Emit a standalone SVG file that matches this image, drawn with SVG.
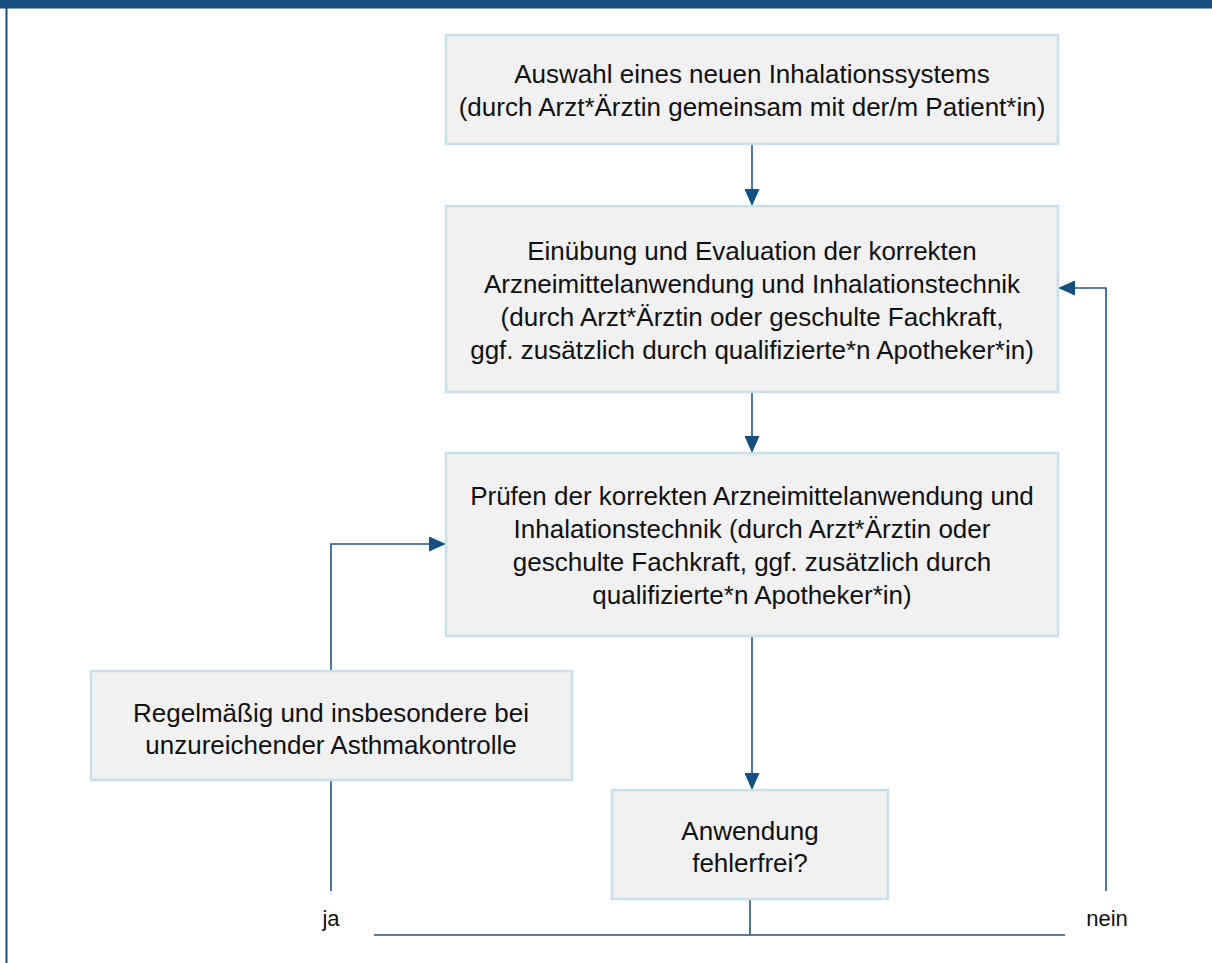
<svg xmlns="http://www.w3.org/2000/svg" width="1212" height="963" viewBox="0 0 1212 963">
<style>
.box{fill:#f1f1f1;stroke:#c6e0ee;stroke-width:2.5}
.t{font-family:"Liberation Sans",Arial,sans-serif;font-size:26px;fill:#111;text-anchor:middle}
.lbl{font-family:"Liberation Sans",Arial,sans-serif;font-size:22px;fill:#111;text-anchor:middle}
.c{fill:none;stroke:#1f5585;stroke-width:1.6}
</style>
<defs>
<marker id="ah" viewBox="0 0 10 10" refX="10" refY="5" markerWidth="10" markerHeight="10" markerUnits="userSpaceOnUse" orient="auto">
<path d="M0,0 L10,5 L0,10 Z" fill="#154f80"/>
</marker>
<marker id="ah2" viewBox="0 0 17 15" refX="17" refY="7.5" markerWidth="17" markerHeight="15" markerUnits="userSpaceOnUse" orient="auto">
<path d="M0,0 L17,7.5 L0,15 Z" fill="#154f80"/>
</marker>
</defs>
<rect x="0" y="0" width="1212" height="963" fill="#ffffff"/>
<rect x="0" y="0" width="1212" height="8.5" fill="#154f80"/>
<line x1="6.5" y1="0" x2="6.5" y2="963" stroke="#154f80" stroke-width="2"/>

<g id="connectors">
<path class="c" d="M752,144 V206" marker-end="url(#ah2)"/>
<path class="c" d="M752,392 V453" marker-end="url(#ah2)"/>
<path class="c" d="M752,636 V790" marker-end="url(#ah2)"/>
<path class="c" d="M750,899 V935"/>
<path class="c" d="M374,935 H1065"/>
<path class="c" d="M1106,891 V288 H1058" marker-end="url(#ah2)"/>
<path class="c" d="M331,891 V780"/>
<path class="c" d="M331,671 V544 H446" marker-end="url(#ah2)"/>
<text class="lbl" x="331" y="926">ja</text>
<text class="lbl" x="1107" y="926">nein</text>
</g>

<g id="n1">
<rect class="box" x="446" y="35" width="612" height="109"/>
<text class="t" x="752" y="83">Auswahl eines neuen Inhalationssystems</text>
<text class="t" x="752" y="116">(durch Arzt*Ärztin gemeinsam mit der/m Patient*in)</text>
</g>

<g id="n2">
<rect class="box" x="446" y="206" width="612" height="186"/>
<text class="t" x="752" y="260">Einübung und Evaluation der korrekten</text>
<text class="t" x="752" y="293">Arzneimittelanwendung und Inhalationstechnik</text>
<text class="t" x="752" y="326">(durch Arzt*Ärztin oder geschulte Fachkraft,</text>
<text class="t" x="752" y="359">ggf. zusätzlich durch qualifizierte*n Apotheker*in)</text>
</g>

<g id="n3">
<rect class="box" x="446" y="453" width="612" height="183"/>
<text class="t" x="752" y="505">Prüfen der korrekten Arzneimittelanwendung und</text>
<text class="t" x="752" y="538">Inhalationstechnik (durch Arzt*Ärztin oder</text>
<text class="t" x="752" y="571">geschulte Fachkraft, ggf. zusätzlich durch</text>
<text class="t" x="752" y="604">qualifizierte*n Apotheker*in)</text>
</g>

<g id="n4">
<rect class="box" x="91" y="671" width="481" height="109"/>
<text class="t" x="331" y="722">Regelmäßig und insbesondere bei</text>
<text class="t" x="331" y="754">unzureichender Asthmakontrolle</text>
</g>

<g id="n5">
<rect class="box" x="612" y="790" width="276" height="109"/>
<text class="t" x="750" y="840">Anwendung</text>
<text class="t" x="750" y="872">fehlerfrei?</text>
</g>
</svg>
